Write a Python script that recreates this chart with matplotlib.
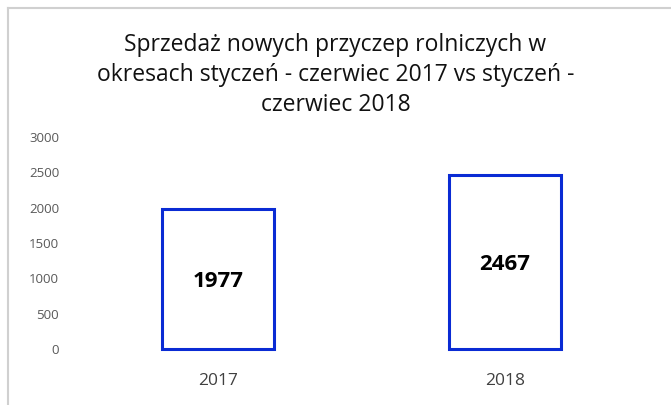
import matplotlib
matplotlib.use("Agg")
import matplotlib.pyplot as plt
from matplotlib.lines import Line2D

# data
years = ["2017", "2018"]
sales = [1977, 2467]
y_ticks = [0, 500, 1000, 1500, 2000, 2500, 3000]
title = "Sprzedaż nowych przyczep rolniczych w\nokresach styczeń - czerwiec 2017 vs styczeń -\nczerwiec 2018"

plt.rcParams['font.family'] = ['Open Sans', 'DejaVu Sans']

fig = plt.figure(figsize=(6.71, 4.05), dpi=100)
ax = fig.add_axes([74.5 / 671, 1 - 349 / 405, 574 / 671, (349 - 137) / 405])

bars = ax.bar(range(len(years)), sales, width=0.387, color="white",
              edgecolor="#0a2bd4", linewidth=2.2, clip_on=False)
ax.bar_label(bars, labels=[str(v) for v in sales], label_type="center",
             fontsize=16, fontweight="bold", color="black", padding=-2)

ax.set_xlim(-0.5, 1.5)
ax.set_ylim(0, 3000)
ax.set_yticks(y_ticks)
ax.set_yticklabels([str(t) for t in y_ticks], fontsize=9.5, color="#595959")
ax.set_xticks(range(len(years)))
ax.set_xticklabels(years, fontsize=12.5, color="#404040")
ax.tick_params(axis="both", length=0)
ax.tick_params(axis="y", pad=11)
ax.tick_params(axis="x", pad=17)
for s in ax.spines.values():
    s.set_visible(False)

fig.text(0.5, 1 - 75 / 405, title, ha="center", va="center", fontsize=16.5,
         color="#111111", linespacing=1.35)

# outer frame (top and left edges)
fig.add_artist(Line2D([8 / 671, 8 / 671], [0, 1 - 8 / 405], color="#d0d0d0", lw=1.5,
                      transform=fig.transFigure))
fig.add_artist(Line2D([8 / 671, 1], [1 - 8 / 405, 1 - 8 / 405], color="#d0d0d0", lw=1.5,
                      transform=fig.transFigure))

fig.savefig("out.png", dpi=100)
